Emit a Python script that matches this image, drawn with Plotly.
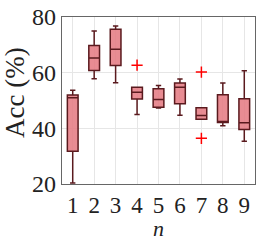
import plotly.graph_objects as go

n_vals = [1, 2, 3, 4, 5, 6, 7, 8, 9]
lower_whisker = [20.4, 57.8, 56.4, 45.0, 47.3, 44.7, 43.3, 40.9, 35.4]
q1 = [31.8, 60.8, 62.6, 50.5, 47.6, 48.8, 43.3, 42.1, 39.6]
median = [51.0, 65.3, 68.4, 53.0, 50.4, 54.8, 44.6, 42.4, 42.0]
q3 = [52.0, 69.8, 75.6, 54.8, 54.2, 56.3, 47.4, 52.1, 50.6]
upper_whisker = [53.7, 75.0, 76.8, 54.8, 55.4, 57.7, 47.4, 56.3, 60.7]

outlier_n = [4, 7, 7]
outlier_acc = [62.7, 60.2, 36.4]

font_family = "Liberation Serif, DejaVu Serif, serif"

fig = go.Figure()
fig.add_trace(go.Box(
    x=n_vals, q1=q1, median=median, q3=q3,
    lowerfence=lower_whisker, upperfence=upper_whisker,
    fillcolor="rgba(228,120,128,0.85)",
    line=dict(color="#5a1a1e", width=1.5),
    width=0.5, whiskerwidth=0.5,
    boxpoints=False, showlegend=False,
))
fig.add_trace(go.Scatter(
    x=outlier_n, y=outlier_acc, mode="markers",
    marker=dict(symbol="cross-thin", size=8, line=dict(color="#ff0000", width=1.5)),
    showlegend=False,
))

fig.update_layout(
    width=264, height=240,
    margin=dict(l=62, r=9, t=17, b=56, autoexpand=False),
    paper_bgcolor="white", plot_bgcolor="white",
    font=dict(family=font_family, color="#222"),
    annotations=[
        dict(text="Acc (%)", xref="paper", yref="paper", x=-0.244, y=0.55,
             textangle=-90, showarrow=False, xanchor="center", yanchor="middle",
             borderpad=0, font=dict(size=27, family=font_family, color="#222")),
        dict(text="<i>n</i>", xref="paper", yref="paper", x=0.5, y=-0.265,
             showarrow=False, xanchor="center", yanchor="middle",
             borderpad=0, font=dict(size=22, family=font_family, color="#222")),
    ],
)
fig.update_xaxes(
    range=[0.5, 9.5], tickvals=n_vals, ticktext=[str(v) for v in n_vals],
    showgrid=True, gridcolor="#e6e6e6", gridwidth=1,
    showline=True, linecolor="#666", linewidth=1.2, mirror=True,
    tickfont=dict(size=23, family=font_family),
    zeroline=False, ticks="", automargin=False,
)
fig.update_yaxes(
    range=[20, 80], tickvals=[20, 40, 60, 80],
    showgrid=True, gridcolor="#e6e6e6", gridwidth=1,
    showline=True, linecolor="#666", linewidth=1.2, mirror=True,
    tickfont=dict(size=24, family=font_family),
    zeroline=False, ticks="", automargin=False,
)
fig.write_html("out.html", config={"displayModeBar": False},
               post_script="document.body.style.margin='0';document.body.style.overflow='hidden';")
